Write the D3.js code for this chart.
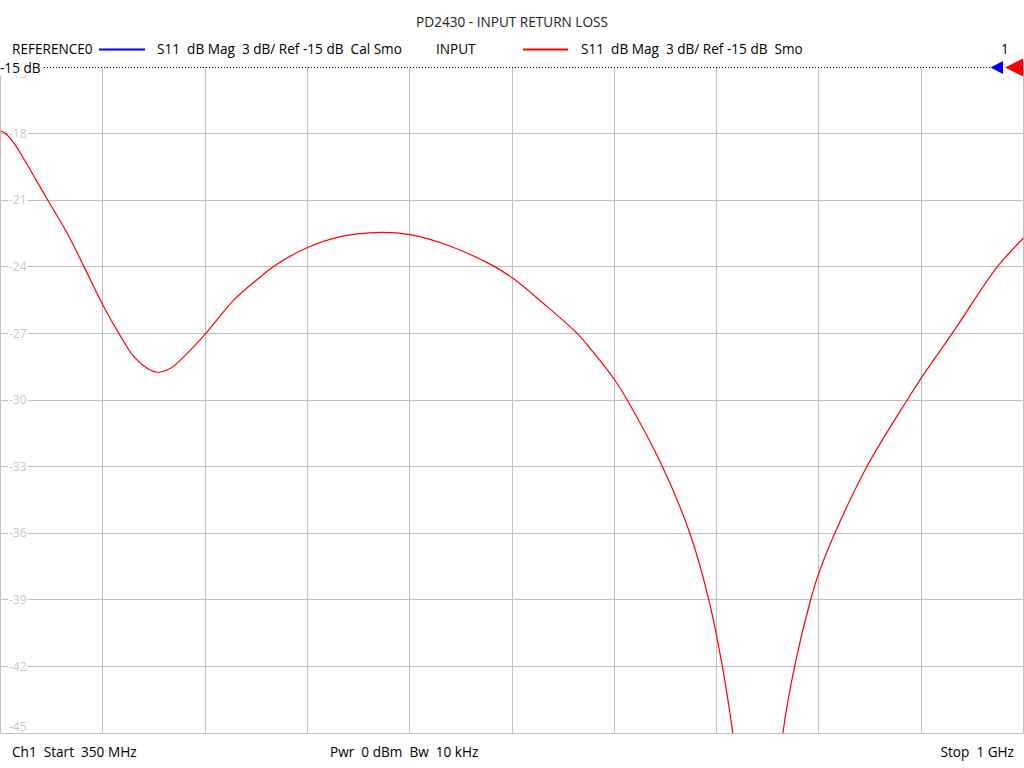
<!DOCTYPE html>
<html>
<head>
<meta charset="utf-8">
<script src="https://cdn.jsdelivr.net/npm/d3@7"></script>
<style>
  html, body { margin: 0; padding: 0; background: #fff; }
  svg { display: block; }
  text { font-family: "Open Sans", "Noto Sans", "DejaVu Sans", sans-serif; white-space: pre; }
</style>
</head>
<body>
<svg id="chart" width="1024" height="768"></svg>
<script>
// ---- data ----
const freqMHz = [350, 353, 358.5, 365.9, 379.7, 392.4, 402.9, 415.6, 425.2, 434.7, 443.2, 449.6, 458.0, 468.6, 480.5, 498.2, 515.2, 523.7, 545.5, 566.0, 591.4, 610.1, 633.8, 663.4, 675.8, 695.0, 716.4, 724.9, 740.3, 748.2, 770.4, 788.0, 800.1, 808.6, 815.3, 822, 828, 832, 837, 842, 847.1, 854.5, 864.7, 869.9, 880.1, 900.7, 926.1, 935.6, 954.7, 983.3, 999.2, 1000];
const s11dB = [-17.87, -17.98, -18.42, -19.27, -20.96, -22.49, -23.97, -25.80, -27.0, -28.05, -28.57, -28.75, -28.57, -27.90, -27.0, -25.50, -24.45, -23.97, -23.12, -22.64, -22.45, -22.55, -23.02, -23.97, -24.53, -25.65, -27.0, -27.70, -29.10, -30.0, -32.97, -36.0, -39.01, -41.98, -45.02, -49, -55, -58, -54, -49, -45.02, -42.02, -39.01, -37.81, -36.0, -32.97, -30.0, -28.95, -27.0, -24.0, -22.76, -22.7];
const yTicks = [-15, -18, -21, -24, -27, -30, -33, -36, -39, -42, -45];
const xTicks = [350, 415, 480, 545, 610, 675, 740, 805, 870, 935, 1000];
const titleText = "PD2430 - INPUT RETURN LOSS";
const legendItems = [
  { name: "REFERENCE0", desc: "S11  dB Mag  3 dB/ Ref -15 dB  Cal Smo", color: "#0000ff" },
  { name: "INPUT", desc: "S11  dB Mag  3 dB/ Ref -15 dB  Smo", color: "#ff0000" }
];
const footer = ["Ch1  Start  350 MHz", "Pwr  0 dBm  Bw  10 kHz", "Stop  1 GHz"];
const refLevel = -15;

// ---- layout ----
const L = 0.5, R = 1023.5, T = 67, B = 733;
const FS = 13.6;
const svg = d3.select("#chart");
const x = d3.scaleLinear().domain([350, 1000]).range([L, R]);
const y = d3.scaleLinear().domain([-45, -15]).range([B, T]);

// grid via axes
const gridColor = "#c0c0c0";
const gx = svg.append("g").attr("transform", `translate(0,${B})`)
  .call(d3.axisBottom(x).tickValues(xTicks).tickSize(-(B - T)).tickFormat(""));
const gy = svg.append("g").attr("transform", `translate(${L},0)`)
  .call(d3.axisLeft(y).tickValues(yTicks).tickSize(-(R - L)).tickFormat(""));
gx.selectAll(".tick").attr("transform", d => `translate(${Math.floor(x(d)) + 0.5},0)`);
gy.selectAll(".tick").attr("transform", d => `translate(0,${Math.floor(y(d)) + 0.5})`);
[gx, gy].forEach(g => {
  g.select(".domain").remove();
  g.selectAll("line").attr("stroke", gridColor).attr("stroke-width", 1);
});
gy.selectAll(".tick").filter(d => d === -15).remove();

// y tick labels with white background
const labG = svg.append("g");
yTicks.forEach(v => {
  let cy = y(v);
  if (v === -45) cy -= 6;
  if (v === -15) cy += 7;
  const t = labG.append("text").attr("x", 9).attr("y", cy).attr("dy", "0.35em")
    .attr("font-size", 12).attr("fill", "#c8c8c8").text(v);
  const bb = t.node().getBBox();
  labG.insert("rect", () => t.node()).attr("x", bb.x - 1).attr("y", cy - 4).attr("width", bb.width + 2).attr("height", 8).attr("fill", "#fff");
});

// clip + line
svg.append("clipPath").attr("id", "clip").append("rect").attr("x", L).attr("y", T).attr("width", R - L).attr("height", B - T);
const pts = freqMHz.map((f, i) => [f, s11dB[i]]);
svg.append("path").datum(pts).attr("clip-path", "url(#clip)")
  .attr("fill", "none").attr("stroke", "#ff0000").attr("stroke-width", 1.2)
  .attr("d", d3.line().x(d => x(d[0])).y(d => y(d[1])).curve(d3.curveCatmullRom.alpha(0.5)));

// reference dotted line
const ry = Math.floor(y(refLevel)) + 0.5;
svg.append("line").attr("x1", 44).attr("x2", 990).attr("y1", ry).attr("y2", ry)
  .attr("stroke", "#000").attr("stroke-width", 1).attr("stroke-dasharray", "1,2");
const refLab = svg.append("text").attr("x", 0).attr("y", ry + 5).attr("font-size", FS).attr("fill", "#000").text("-15 dB");
const rb = refLab.node().getBBox();
svg.insert("rect", () => refLab.node()).attr("x", rb.x).attr("y", rb.y).attr("width", rb.width + 2).attr("height", rb.height - 1).attr("fill", "#fff");

// markers
svg.append("path").attr("d", `M990.5,${ry} L1003,${ry - 6.5} L1003,${ry + 6.5} Z`).attr("fill", "#0000ff");
svg.append("path").attr("d", `M1005,${ry} L1023,${ry - 9} L1023,${ry + 9} Z`).attr("fill", "#ff0000");
svg.append("text").attr("x", 1005).attr("y", 54).attr("font-size", FS).attr("text-anchor", "middle").attr("fill", "#000").text("1");

// title
svg.append("text").attr("x", 512).attr("y", 27).attr("text-anchor", "middle").attr("font-size", FS).attr("fill", "#222").text(titleText);

// legend
const legPos = [{ tx: 12, lx1: 99, lx2: 145, dx: 157 }, { tx: 436, lx1: 523, lx2: 568, dx: 581 }];
legendItems.forEach((d, i) => {
  const p = legPos[i];
  svg.append("text").attr("x", p.tx).attr("y", 54).attr("font-size", FS).attr("fill", "#000").text(d.name);
  svg.append("line").attr("x1", p.lx1).attr("x2", p.lx2).attr("y1", 49.5).attr("y2", 49.5).attr("stroke", d.color).attr("stroke-width", 2);
  svg.append("text").attr("x", p.dx).attr("y", 54).attr("font-size", FS).attr("fill", "#000").text(d.desc);
});

// footer
svg.append("text").attr("x", 12).attr("y", 757).attr("font-size", FS).attr("fill", "#000").text(footer[0]);
svg.append("text").attr("x", 330).attr("y", 757).attr("font-size", FS).attr("fill", "#000").text(footer[1]);
svg.append("text").attr("x", 1014).attr("y", 757).attr("font-size", FS).attr("text-anchor", "end").attr("fill", "#000").text(footer[2]);
</script>
</body>
</html>
